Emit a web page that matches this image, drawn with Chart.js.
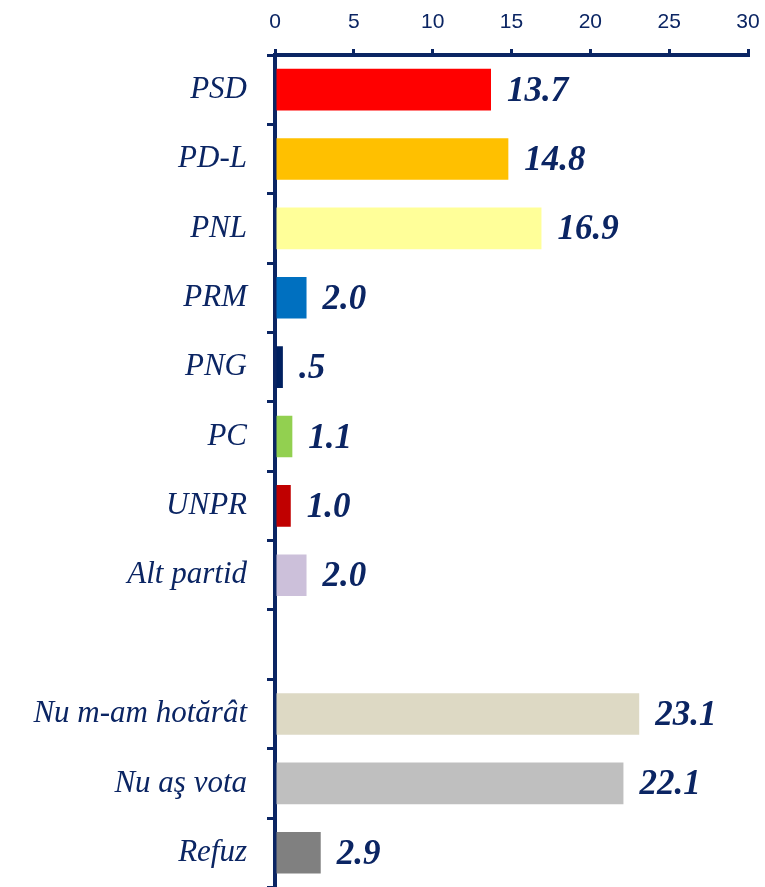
<!DOCTYPE html>
<html>
<head>
<meta charset="utf-8">
<script src="https://cdn.jsdelivr.net/npm/chart.js@4"></script>
<style>
  html, body { margin: 0; padding: 0; background: #fff; overflow: hidden; }
  #wrap { width: 765px; height: 926px; }
</style>
</head>
<body>
<div id="wrap"><canvas id="chartVot"></canvas></div>
<script>
const categorii = ['PSD', 'PD-L', 'PNL', 'PRM', 'PNG', 'PC', 'UNPR', 'Alt partid', '', 'Nu m-am hotărât', 'Nu aş vota', 'Refuz'];
const procente = [13.7, 14.8, 16.9, 2.0, 0.5, 1.1, 1.0, 2.0, null, 23.1, 22.1, 2.9];
const culori = [
  '#FF0000', // PSD
  '#FFC000', // PD-L
  '#FFFF99', // PNL
  '#0070C0', // PRM
  '#002060', // PNG
  '#92D050', // PC
  '#C00000', // UNPR
  '#CCC0DA', // Alt partid
  '#FFFFFF',
  '#DDD9C4', // Nu m-am hotarat
  '#BFBFBF', // Nu as vota
  '#808080'  // Refuz
];
const ticksX = [0, 5, 10, 15, 20, 25, 30];

const bleumarin = '#0B2563';

// eticheta cu valoarea, in stil SPSS (.5 in loc de 0.5)
const eticheteValori = {
  id: 'eticheteValori',
  afterDatasetsDraw(chart) {
    const ctx = chart.ctx;
    const meta = chart.getDatasetMeta(0);
    ctx.save();
    ctx.font = 'italic bold 35px "Liberation Serif"';
    ctx.fillStyle = bleumarin;
    ctx.textAlign = 'left';
    ctx.textBaseline = 'middle';
    meta.data.forEach((bar, i) => {
      const v = procente[i];
      if (v === null) return;
      let txt = v.toFixed(1);
      if (txt.startsWith('0')) txt = txt.slice(1);
      ctx.fillText(txt, bar.x + 16, bar.y + 2);
    });
    ctx.restore();
  }
};

new Chart(document.getElementById('chartVot'), {
  type: 'bar',
  data: {
    labels: categorii,
    datasets: [{
      data: procente,
      backgroundColor: culori,
      borderWidth: 0,
      barPercentage: 0.6,
      categoryPercentage: 1
    }]
  },
  options: {
    indexAxis: 'y',
    responsive: true,
    maintainAspectRatio: false,
    animation: false,
    layout: { padding: { top: 0, right: 17, bottom: 0, left: 0 } },
    plugins: {
      legend: { display: false },
      tooltip: { enabled: false }
    },
    scales: {
      x: {
        position: 'top',
        min: 0,
        max: 30,
        afterBuildTicks: (scale) => { scale.ticks = ticksX.map(v => ({ value: v })); },
        afterFit: (scale) => {
          scale.height = 55;
          scale.paddingLeft = 0;
          scale.paddingRight = 0;
        },
        ticks: {
          color: bleumarin,
          font: { family: 'Liberation Sans', size: 21 },
          padding: 14
        },
        grid: {
          drawOnChartArea: false,
          drawTicks: true,
          tickLength: 6,
          color: bleumarin,
          lineWidth: 3
        },
        border: { display: true, color: bleumarin, width: 4 }
      },
      y: {
        afterFit: (scale) => { scale.width = 275; },
        ticks: {
          color: bleumarin,
          font: { family: 'Liberation Serif', style: 'italic', size: 31 },
          padding: 20
        },
        grid: {
          drawOnChartArea: false,
          drawTicks: true,
          tickLength: 8,
          offset: true,
          color: bleumarin,
          lineWidth: 3
        },
        border: { display: true, color: bleumarin, width: 4 }
      }
    }
  },
  plugins: [eticheteValori]
});
</script>
</body>
</html>
